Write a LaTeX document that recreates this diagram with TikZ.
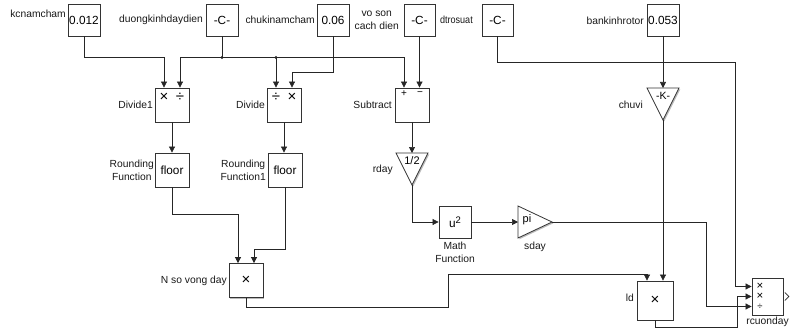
\documentclass[tikz,border=0pt]{standalone}
\usepackage{fontspec}
\setmainfont{Liberation Sans}
\usetikzlibrary{arrows.meta,shadows,calc}
\begin{document}
\begin{tikzpicture}[x=1pt,y=-1pt,
  wire/.style={line width=0.7pt, draw=black!85},
  arr/.style={wire, -{Triangle[length=6pt,width=6pt]}},
  shad/.style={drop shadow={shadow xshift=1.3pt, shadow yshift=-1.3pt, fill=black!45, opacity=0.6}},
  blk/.style={draw=black!80, line width=0.8pt, fill=white, inner sep=0pt, shad,
    minimum width=32pt, minimum height=32pt, font=\fontsize{11.8}{12}\selectfont},
  tri/.style={draw=black!80, line width=0.8pt, fill=white, shad},
  lbl/.style={font=\fontsize{10.3}{13}\selectfont, inner sep=1pt, text=black!90},
  sgn/.style={font=\fontsize{15}{15}\selectfont, inner sep=0pt},
  ssgn/.style={font=\fontsize{10}{10}\selectfont, inner sep=0pt},
  rsgn/.style={font=\fontsize{11.5}{11.5}\selectfont, inner sep=0pt},
]
\useasboundingbox (0,0) rectangle (793,329);

% constant blocks
\node[blk] (c1) at (84,20) {0.012};
\node[blk] (c2) at (222,20) {-C-};
\node[blk] (c3) at (333,20) {0.06};
\node[blk, minimum width=31pt] (c4) at (419.5,20) {-C-};
\node[blk, minimum width=31pt] (c5) at (497.5,20) {-C-};
\node[blk] (c6) at (663,20) {0.053};

% operation blocks
\node[blk, minimum width=34pt, minimum height=34pt] (div1) at (172,105) {};
\node[blk, minimum width=34pt, minimum height=34pt] (div) at (284,105) {};
\node[blk, minimum width=34pt, minimum height=34pt] (sub) at (412,105) {};
\node[blk, minimum width=34pt, minimum height=34pt] (fl1) at (172,170) {floor};
\node[blk, minimum width=34pt, minimum height=34pt] (fl2) at (285,170) {floor};
\node[blk] (math) at (455,222) {u\raisebox{4pt}{\fontsize{9.5}{9.5}\selectfont 2}};
\node[blk, minimum width=34pt, minimum height=34pt] (N) at (246,280.5) {\fontsize{15}{15}\selectfont ×};
\node[blk, minimum width=36pt, minimum height=39pt] (ld) at (655,300.5) {\fontsize{15}{15}\selectfont ×};
\node[blk, minimum width=31pt, minimum height=37pt] (rc) at (767.5,296.5) {};

% signs inside blocks
\node[sgn] (s1) at (164,97) {×};
\node[sgn] (s2) at (180,97) {÷};
\node[sgn] (s3) at (276,97) {÷};
\node[sgn] (s4) at (292,97) {×};
\node[ssgn] (s5) at (404,93.5) {+};
\node[ssgn] (s6) at (420,93.5) {−};
\node[rsgn] (s7) at (760,286.5) {×};
\node[rsgn] (s8) at (760,296.5) {×};
\node[rsgn, font=\fontsize{9.5}{9.5}\selectfont] (s9) at (760,307) {÷};

% gain triangles
\draw[tri] (396,153) -- (428,153) -- (412,185) -- cycle;
\coordinate (rdayin) at (412,153);
\coordinate (rdayout) at (412,185);
\node[inner sep=0pt, font=\fontsize{11}{11}\selectfont] (rdaytxt) at (412,161) {1/2};

\draw[tri] (518,206) -- (552,222) -- (518,238) -- cycle;
\coordinate (sdayin) at (518,222);
\coordinate (sdayout) at (552,222);
\node[inner sep=0pt, font=\fontsize{11}{11}\selectfont] (sdaytxt) at (527,220) {pi};

\draw[tri] (647,88) -- (679,88) -- (663,120) -- cycle;
\coordinate (chuviin) at (663,88);
\coordinate (chuviout) at (663,120);
\node[inner sep=0pt, font=\fontsize{10.5}{11}\selectfont] (chuvitxt) at (663,96) {-K-};

% output port of rcuonday
\draw[wire] ($(rc.east)+(1.5,-4)$) -- ($(rc.east)+(5.5,0)$) -- ($(rc.east)+(1.5,4)$);

% labels
\node[lbl, anchor=east] (l1) at (67,14) {kcnamcham};
\node[lbl, anchor=east] (l2) at (204,20) {duongkinhdaydien};
\node[lbl, anchor=east] (l3) at (316,20) {chukinamcham};
\node[lbl, anchor=east, align=center] (l4) at (400,20.5) {vo son\\cach dien};
\node[lbl, anchor=east] (l5) at (474,20) {\scalebox{0.88}[1]{dtrosuat}};
\node[lbl, anchor=east] (l6) at (645,21) {bankinhrotor};
\node[lbl, anchor=east] (l7) at (154,105) {Divide1};
\node[lbl, anchor=east] (l8) at (266,105) {Divide};
\node[lbl, anchor=east, align=center] (l9) at (155,170) {Rounding\\Function};
\node[lbl, anchor=east, align=center] (l10) at (267,170) {Rounding\\Function1};
\node[lbl, anchor=east] (l11) at (393,105) {Subtract};
\node[lbl, anchor=east] (l12) at (394,170) {rday};
\node[lbl, anchor=east] (l13) at (644,105) {chuvi};
\node[lbl, anchor=east] (l14) at (228,281) {N so vong day};
\node[lbl, anchor=east] (l15) at (635,298) {ld};
\node[lbl, anchor=north, align=center] (l16) at (455,240.5) {Math\\Function};
\node[lbl, anchor=north] (l17) at (535,240.5) {sday};
\node[lbl, anchor=north] (l18) at (767.5,316) {rcuonday};

% connectors
\coordinate (j1) at (222,57.5);
\coordinate (j2) at (276,57.5);
\draw[arr] (c1.south) |- (164,57.5) -- ($(div1.north)+(-8,0)$);
\draw[wire] (c2.south) -- (j1);
\draw[arr] (j1) -| ($(div1.north)+(8,0)$);
\draw[arr] (j1) -| ($(div.north)+(-8,0)$);
\draw[arr] (j2) -| ($(sub.north)+(-8,0)$);
\fill[black!85] (j1) circle (1.7);
\fill[black!85] (j2) circle (1.7);
\draw[arr] (c3.south) |- (292,72) -- ($(div.north)+(8,0)$);
\draw[arr] (c4.south) -- (c4.south |- sub.north);
\draw[arr] (c5.south) |- (735,62) |- ($(rc.west)+(0,-10)$);
\draw[arr] (c6.south) -- (chuviin);
\draw[arr] (chuviout) -- ($(ld.north)+(8,0)$);
\draw[arr] (div1.south) -- (fl1.north -| div1.south);
\draw[arr] (div.south) -- (fl2.north -| div.south);
\draw[arr] (fl1.south) |- (238,214) -- ($(N.north)+(-8,0)$);
\draw[arr] (fl2.south) |- (254,249) -- ($(N.north)+(8,0)$);
\draw[arr] (sub.south) -- (rdayin);
\draw[arr] (rdayout) |- (math.west);
\draw[arr] (math.east) -- (sdayin);
\draw[arr] (sdayout) -| (706,306.5) -- ($(rc.west)+(0,10)$);
\draw[arr] (N.south) |- (448,307) |- (647,274) -- ($(ld.north)+(-8,0)$);
\draw[arr] (ld.south) |- (737,327) |- (rc.west);
\end{tikzpicture}
\end{document}
